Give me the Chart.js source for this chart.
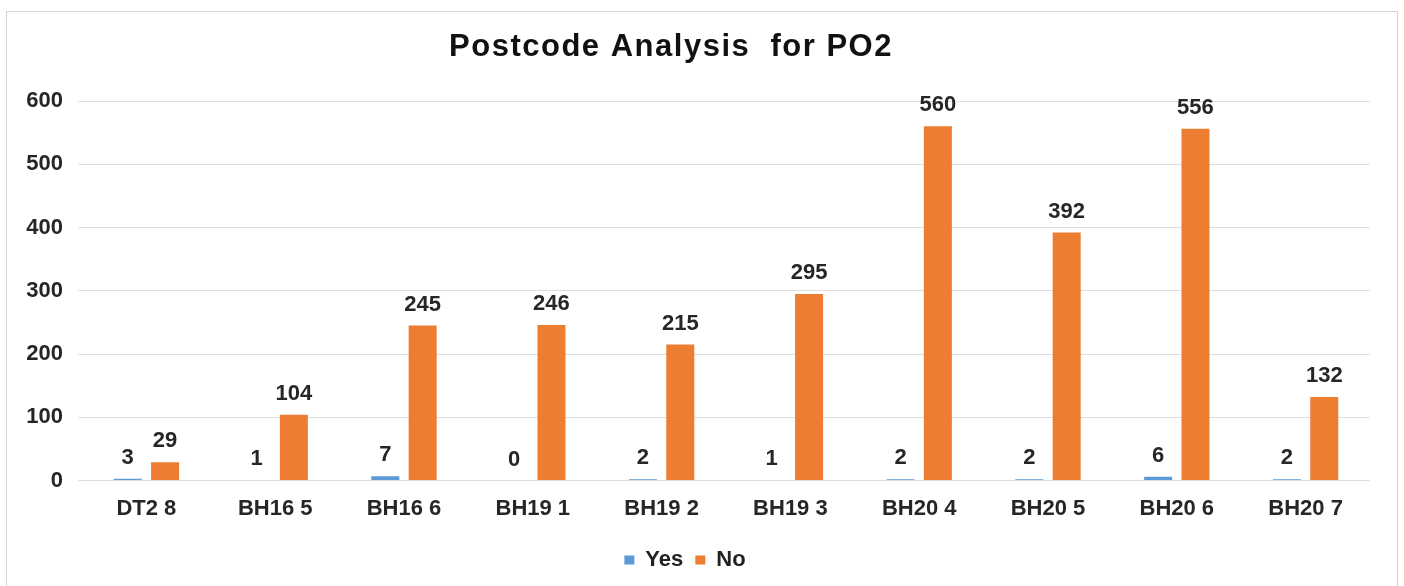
<!DOCTYPE html>
<html>
<head>
<meta charset="utf-8">
<script src="https://cdn.jsdelivr.net/npm/chart.js@4/dist/chart.umd.min.js"></script>
<style>
  html, body { margin: 0; padding: 0; background: #fff; }
  #wrap { position: relative; width: 1404px; height: 586px; }
  #frame {
    position: absolute; left: 6px; top: 11px; width: 1392px; height: 600px;
    border: 1px solid #d4d4d4; box-sizing: border-box; pointer-events: none;
  }
</style>
</head>
<body>
<div id="wrap">
  <canvas id="myChart" width="1404" height="586"></canvas>
  <div id="frame"></div>
</div>
<script>
const categories = ["DT2 8", "BH16 5", "BH16 6", "BH19 1", "BH19 2", "BH19 3", "BH20 4", "BH20 5", "BH20 6", "BH20 7"];
const yesValues = [3, 1, 7, 0, 2, 1, 2, 2, 6, 2];
const noValues = [29, 104, 245, 246, 215, 295, 560, 392, 556, 132];
const yTicks = [0, 100, 200, 300, 400, 500, 600];

const FONT = "'Liberation Sans', Arial, sans-serif";

// values above the bars
const valueLabels = {
  id: "valueLabels",
  afterDatasetsDraw(chart) {
    const ctx = chart.ctx;
    ctx.save();
    ctx.font = "bold 22px " + FONT;
    ctx.fillStyle = "#262626";
    ctx.textAlign = "center";
    ctx.textBaseline = "alphabetic";
    chart.data.datasets.forEach((ds, i) => {
      chart.getDatasetMeta(i).data.forEach((bar, j) => {
        ctx.fillText(String(ds.data[j]), bar.x, bar.y - 15);
      });
    });
    ctx.restore();
  }
};

// title, placed like the original (a bit left of centre)
const titleText = {
  id: "titleText",
  afterDraw(chart) {
    const ctx = chart.ctx;
    ctx.save();
    ctx.font = "bold 31px " + FONT;
    ctx.letterSpacing = "1.5px";
    ctx.fillStyle = "#111";
    ctx.textAlign = "center";
    ctx.textBaseline = "alphabetic";
    ctx.fillText("Postcode Analysis  for PO2", 671, 56);
    ctx.restore();
  }
};

new Chart(document.getElementById("myChart"), {
  type: "bar",
  data: {
    labels: categories,
    datasets: [
      { label: "Yes", data: yesValues, backgroundColor: "#5B9BD5", categoryPercentage: 0.58, barPercentage: 0.75 },
      { label: "No", data: noValues, backgroundColor: "#ED7D31", categoryPercentage: 0.58, barPercentage: 0.75 }
    ]
  },
  options: {
    responsive: false,
    animation: false,
    layout: { padding: { left: 0, right: 34, top: 101, bottom: 5 } },
    plugins: {
      title: { display: false },
      tooltip: { enabled: false },
      legend: {
        position: "bottom",
        labels: {
          boxWidth: 10,
          boxHeight: 9,
          padding: 12,
          color: "#222",
          font: { family: FONT, size: 22, weight: "bold" }
        }
      }
    },
    scales: {
      x: {
        grid: { display: false, drawTicks: false },
        border: { display: false },
        ticks: {
          padding: 15,
          color: "#262626",
          font: { family: FONT, size: 22, weight: "bold" }
        }
      },
      y: {
        min: 0,
        max: 600,
        afterFit(s) { s.width = 82; },
        afterBuildTicks(s) { s.ticks = yTicks.map(v => ({ value: v })); },
        grid: { color: "#dedede", lineWidth: 1, tickLength: 4, tickColor: "#dedede" },
        border: { display: false },
        ticks: {
          padding: 15,
          color: "#262626",
          font: { family: FONT, size: 22, weight: "bold" }
        }
      }
    }
  },
  plugins: [valueLabels, titleText]
});
</script>
</body>
</html>
